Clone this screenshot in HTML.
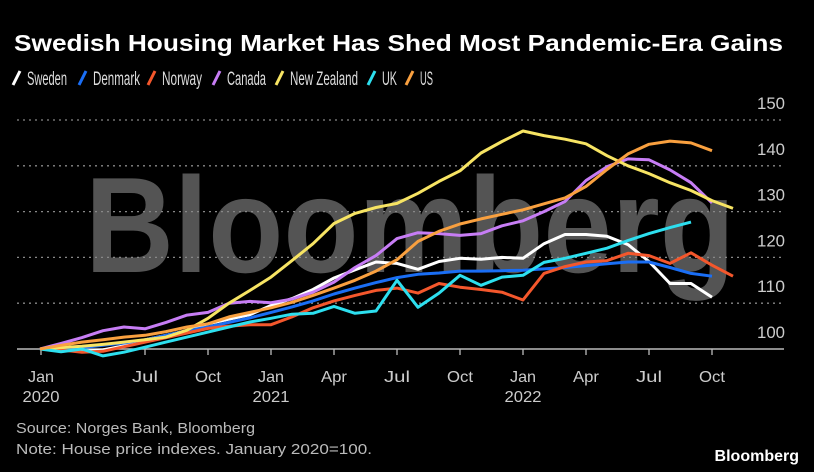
<!DOCTYPE html>
<html><head><meta charset="utf-8"><style>
html,body{margin:0;padding:0;background:#000;width:814px;height:472px;overflow:hidden}
svg{display:block;font-family:"Liberation Sans",sans-serif}
</style></head><body>
<svg id="chart" width="814" height="472" viewBox="0 0 814 472">
<rect width="814" height="472" fill="#000"/>
<text x="14" y="51" fill="#fff" font-size="23" font-weight="bold" textLength="769" lengthAdjust="spacingAndGlyphs">Swedish Housing Market Has Shed Most Pandemic-Era Gains</text>
<g id="legend"></g>
<text x="410" y="272" fill="#fff" fill-opacity="0.33" font-size="136" font-weight="bold" text-anchor="middle" textLength="650" lengthAdjust="spacingAndGlyphs">Bloomberg</text>
<g id="grid"></g>
<g id="yaxis"></g>
<g id="xaxis"></g>
<g id="series"></g>
<text x="16" y="433" fill="#bbb" font-size="15" textLength="239" lengthAdjust="spacingAndGlyphs">Source: Norges Bank, Bloomberg</text>
<text x="16" y="454" fill="#bbb" font-size="15" textLength="356" lengthAdjust="spacingAndGlyphs">Note: House price indexes. January 2020=100.</text>
<text x="799" y="461" fill="#fff" font-size="16" font-weight="bold" text-anchor="end">Bloomberg</text>
</svg>
<script>
const yTicks=[100,110,120,130,140,150];
const xTickMonths=[0,6,9,12,15,18,21,24,27,30,33];
const xTickLabels=["Jan","Jul","Oct","Jan","Apr","Jul","Oct","Jan","Apr","Jul","Oct"];
const xTickYears={0:"2020",12:"2021",24:"2022"};
const names=["Sweden","Denmark","Norway","Canada","New Zealand","UK","US"];
const colors=["#ffffff","#1a6ef5","#f4572c","#c77df5","#f7e463","#2ddfef","#f9a03f"];
const sweden=[100,100,99.5,99.8,100.7,102,103,104,105.5,106.5,107.5,109.5,111,113,115.5,117.3,119,118.7,117.4,119.1,119.8,119.6,120,119.8,123,125,125,124.6,122.8,119.1,114.3,114.3,111.3];
const denmark=[100,100,100.3,100.8,101.3,102,103,104,104.8,105.8,106.8,108,109.2,110.5,112,113.3,114.5,115.6,116.3,116.6,117,117,117.1,117.2,117.5,117.8,118.2,118.6,119,119,117.8,116.5,115.9];
const norway=[100,99.8,99.3,99.5,100.5,101.5,102.5,103.5,104.5,105,105.3,105.3,107,109,110.5,111.7,112.8,113.3,112.2,114.3,113.5,113,112.4,110.7,116.5,118,119,119.3,120.9,120.4,118.7,121,118.3,115.9];
const canada=[100,101.2,102.5,104,104.8,104.4,105.8,107.4,108,110,110.4,110.1,110.9,112.4,114.6,117.8,120.4,124.1,125.4,125.2,124.8,125.2,126.9,128,130,132.2,136.8,139.8,141.5,141.3,139.1,136.3,131.9];
const newZealand=[100,100.3,100.6,101,101.5,102,102.6,104.1,106.7,110,112.8,115.7,119.3,123,127.4,129.6,130.9,131.8,134,136.6,138.9,142.8,145.3,147.6,146.6,145.8,144.8,142.2,140,138.3,136.3,134.6,132.4,130.7];
const uk=[100,99.4,100,98.5,99.3,100.4,101.5,102.6,103.7,104.8,105.9,106.7,107.6,107.8,109.3,107.8,108.3,115,109.1,112.2,116.1,113.9,115.7,116.1,118.9,119.8,120.9,122,123.7,125.2,126.5,127.7];
const us=[100,100.8,101.5,102,102.6,103,103.8,104.8,105.5,107,108,109,110.2,111.7,113.3,115,117,119.5,123.5,125.7,127.3,128.4,129.4,130.4,131.7,133,135.5,139.2,142.6,144.7,145.4,145,143.3];
const seriesData=[sweden,denmark,norway,canada,newZealand,uk,us];
const firstMonth=1;
const ns="http://www.w3.org/2000/svg";
function xs(m){return 19+21*m;}
function ys(v){return 349-4.58*(v-100);}
function mk(tag,attrs,parent){const e=document.createElementNS(ns,tag);for(const k in attrs)e.setAttribute(k,attrs[k]);parent.appendChild(e);return e;}
const grid=document.getElementById('grid'),yax=document.getElementById('yaxis'),xax=document.getElementById('xaxis'),ser=document.getElementById('series'),leg=document.getElementById('legend');
yTicks.forEach(v=>{
  if(v>100){const l=mk('line',{x1:17,x2:784,y1:ys(v),y2:ys(v),stroke:'#888','stroke-width':1.3,'stroke-dasharray':'2,4'},grid);
  
  }
  const t=mk('text',{x:785,y:ys(v)-11,fill:'#ccc','font-size':17,'text-anchor':'end',textLength:28,lengthAdjust:'spacingAndGlyphs'},yax);
  t.textContent=v;
  
  
});
const base=mk('line',{x1:17,x2:784,y1:349,y2:349,stroke:'#bbb','stroke-width':1.5},xax);


xTickMonths.forEach((m,i)=>{
  const x=m===0?41:xs(m);
  const tk=mk('line',{x1:x,x2:x,y1:349,y2:355,stroke:'#bbb','stroke-width':1.3},xax);
  
  
  const t=mk('text',{x:x,y:382,fill:'#ccc','font-size':16,'text-anchor':'middle',textLength:26,lengthAdjust:'spacingAndGlyphs'},xax);
  t.textContent=xTickLabels[i];
  
  
  if(xTickYears[m]){const y=mk('text',{x:x,y:402,fill:'#ccc','font-size':16,'text-anchor':'middle',textLength:37,lengthAdjust:'spacingAndGlyphs'},xax);
  y.textContent=xTickYears[m];
  
  }
});
seriesData.forEach((d,i)=>{
  const pts=d.map((v,j)=>xs(firstMonth+j).toFixed(1)+','+ys(v).toFixed(1)).join(' ');
  const p=mk('polyline',{points:pts,fill:'none',stroke:colors[i],'stroke-width':3,'stroke-linejoin':'round'},ser);
  
  
});
const legX=[12,78,147,212,275,367,405];
const legW=[40,47,40,39,68,15,13];
names.forEach((n,i)=>{
  const g=mk('g',{},leg);
  
  
  mk('line',{x1:legX[i]+1,y1:85,x2:legX[i]+8,y2:71,stroke:colors[i],'stroke-width':3},g);
  const t=mk('text',{x:legX[i]+15,y:85,fill:'#ddd','font-size':19,textLength:legW[i],lengthAdjust:'spacingAndGlyphs'},g);
  t.textContent=n;
});
</script>
</body></html>
